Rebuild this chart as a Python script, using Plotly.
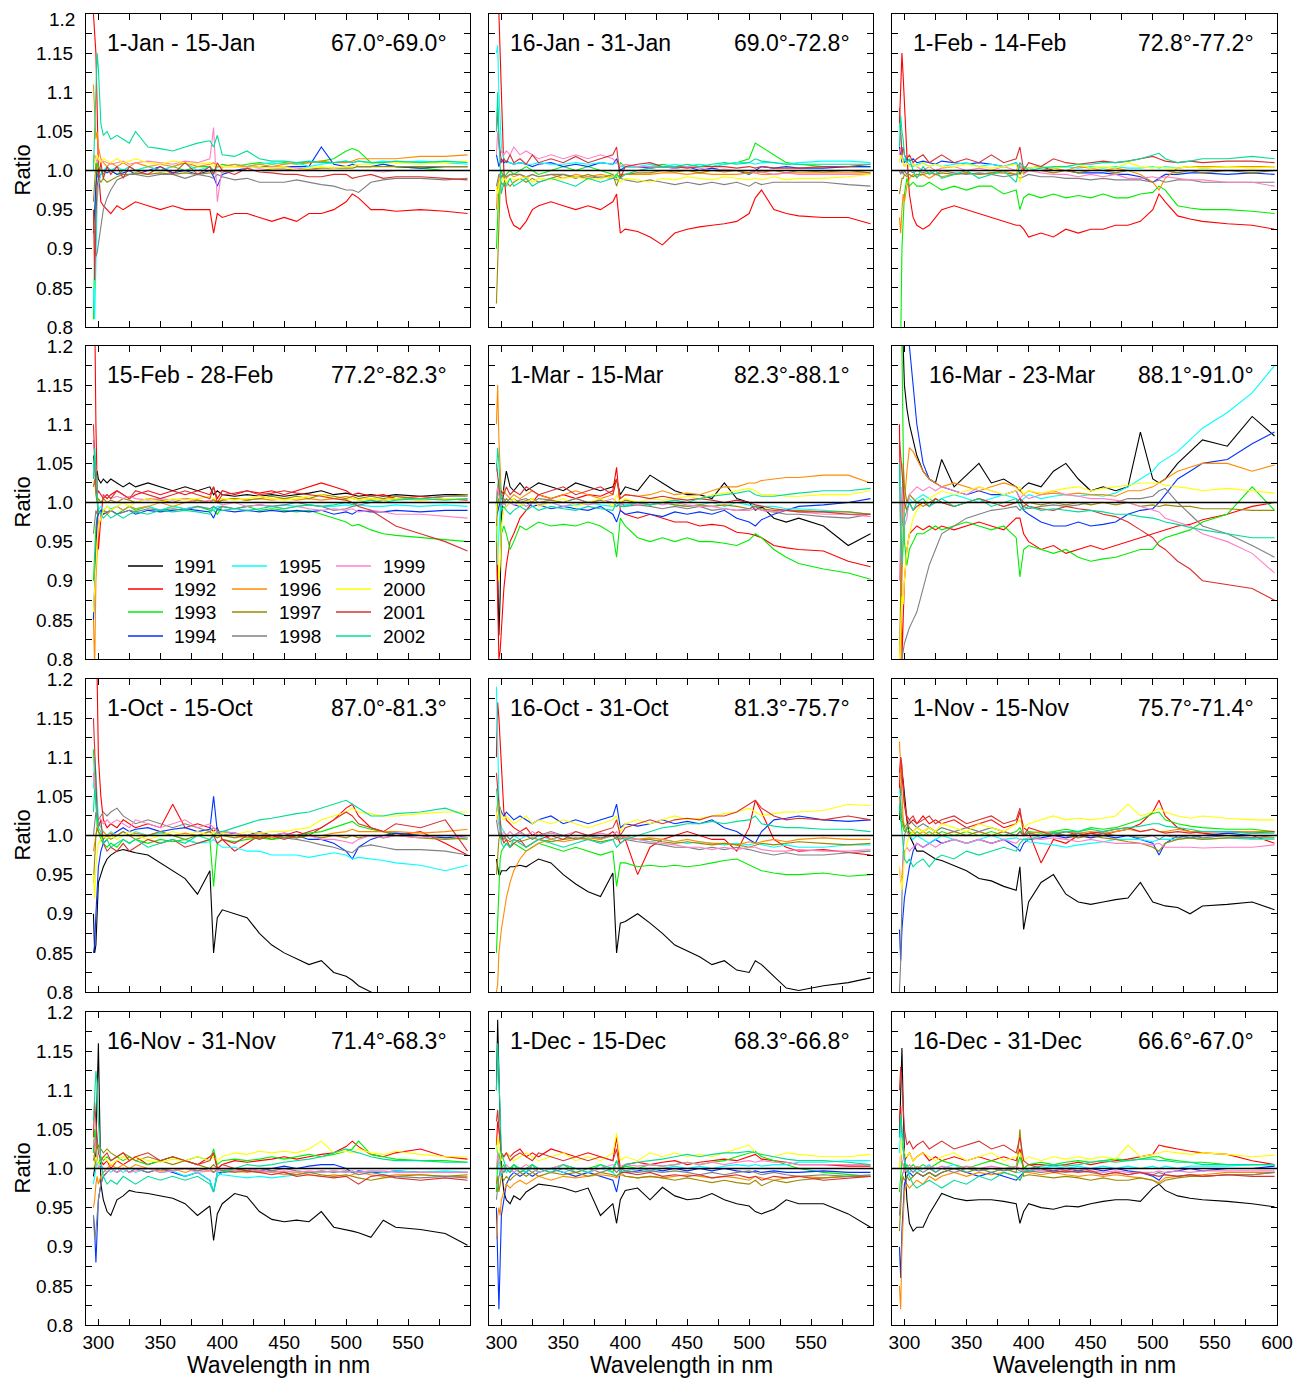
import plotly.graph_objects as go

# ---------------------------------------------------------------- data
WAVELENGTH_NM = [296, 297, 298, 299, 300, 302, 304, 307, 310, 315,
                 320, 325, 330, 340, 350, 360, 370, 380, 390, 393,
                 396, 400, 410, 420, 430, 440, 450, 460, 470, 480,
                 490, 500, 505, 510, 520, 530, 540, 560, 580, 598]

YEARS = [1991, 1992, 1993, 1994, 1995, 1996, 1997, 1998, 1999, 2000, 2001, 2002]
YEAR_COLORS = {1991: "#000000", 1992: "#ff0000", 1993: "#00ee00", 1994: "#0033ff",
               1995: "#00ffff", 1996: "#ff8c00", 1997: "#9a8a00", 1998: "#808080",
               1999: "#ff80c8", 2000: "#ffff00", 2001: "#d83030", 2002: "#00dd99"}

PANEL_PERIODS = ["1-Jan - 15-Jan", "16-Jan - 31-Jan", "1-Feb - 14-Feb",
                 "15-Feb - 28-Feb", "1-Mar - 15-Mar", "16-Mar - 23-Mar",
                 "1-Oct - 15-Oct", "16-Oct - 31-Oct", "1-Nov - 15-Nov",
                 "16-Nov - 31-Nov", "1-Dec - 15-Dec", "16-Dec - 31-Dec"]
PANEL_SZA = ["67.0°-69.0°", "69.0°-72.8°", "72.8°-77.2°",
             "77.2°-82.3°", "82.3°-88.1°", "88.1°-91.0°",
             "87.0°-81.3°", "81.3°-75.7°", "75.7°-71.4°",
             "71.4°-68.3°", "68.3°-66.8°", "66.6°-67.0°"]

Y_TICK_VALUES = [0.8, 0.825, 0.85, 0.875, 0.9, 0.925, 0.95, 0.975, 1.0,
                 1.025, 1.05, 1.075, 1.1, 1.125, 1.15, 1.175, 1.2]
Y_TICK_LABELS = ["0.8", "", "0.85", "", "0.9", "", "0.95", "", "1.0",
                 "", "1.05", "", "1.1", "", "1.15", "", "1.2"]
X_TICK_VALUES = [300, 325, 350, 375, 400, 425, 450, 475, 500, 525, 550, 575, 600]

# Ratio departures from unity, in per mille (ratio = 1 + value / 1000)
JAN_01_15 = {
    1992: [200, 180, 150, 80, 0, -40, -45, -50, -55, -45, -50, -45, -40, -45, -50, -45, -50, -50, -50, -80,
           -55, -60, -55, -55, -60, -65, -60, -65, -55, -55, -50, -40, -30, -35, -50, -50, -52, -50, -52, -55],
    1993: [-190, -80, -20, 10, 5, 0, -5, 5, 0, -5, 0, 5, 0, 5, 0, 5, 0, 5, 5, 0,
           5, 8, 5, 8, 10, 8, 10, 8, 10, 12, 15, 25, 28, 25, 10, 8, 5, 3, 0, 0],
    1994: [-80, -40, -20, 0, -10, -5, 0, -3, 0, -5, -3, 0, -5, 0, 5, -3, 0, -5, 0, -8,
           -20, -5, 0, 3, 5, 5, 5, 5, 5, 30, 8, 5, 8, 5, 5, 8, 5, 3, 5, 5],
    1995: [-150, -190, -120, -40, -20, -5, 0, 5, 0, 5, 0, 5, 0, 5, 0, 5, 10, 0, 5, -5,
           5, 5, 8, 5, 8, 10, 8, 10, 5, 8, 10, 12, 10, 12, 10, 12, 10, 12, 10, 8],
    1996: [110, 60, 40, 50, 30, 15, 10, 5, 10, 5, 10, 5, 10, 5, 8, 5, 10, 5, 8, 10,
           5, 5, 8, 5, 8, 5, 8, 10, 10, 12, 10, 10, 12, 15, 15, 15, 15, 18, 18, 20],
    1997: [-40, -20, 10, 0, -10, -15, -10, -15, -12, -8, -5, -5, -3, -5, -3, -5, -3, -5, -3, -2,
           0, -2, 0, 0, 0, 2, 2, 0, 2, 3, 3, 3, 3, 5, 5, 5, 5, 5, 5, 5],
    1998: [-60, -90, -110, -105, -95, -70, -50, -35, -25, -12, -8, -5, -5, -8, -5, -5, -10, -5, -8, -10,
           -5, -8, -12, -10, -15, -15, -15, -12, -15, -18, -20, -25, -25, -28, -15, -12, -10, -10, -12, -10],
    1999: [10, 20, 15, 10, 15, 10, 12, 10, 8, 10, 12, 8, 10, 12, 10, 8, 12, 10, 15, 55,
           -40, 5, 5, 5, 3, 5, 5, 3, 2, 0, 0, 0, 0, 0, 0, -2, 0, 0, 0, 0],
    2000: [20, 10, 15, 20, 15, 10, 15, 12, 10, 15, 10, 12, 15, 10, 8, 12, 10, 8, 10, 5,
           8, 5, 5, 3, 5, 3, 5, 0, 3, 5, 3, 5, 5, 8, 8, 10, 10, 8, 10, 12],
    2001: [-50, -140, -60, -20, -10, 10, -10, 5, -5, 5, -10, 5, 0, -5, 5, -5, 10, -5, 5, -5,
           10, 0, -5, 3, -2, -3, -5, -5, -8, -8, -5, -5, -10, -8, -5, -10, -8, -8, -10, -12],
    2002: [0, 60, 120, 150, 130, 60, 45, 50, 40, 45, 40, 35, 50, 30, 28, 25, 30, 35, 38, 30,
           45, 20, 18, 25, 15, 12, 12, 10, 12, 10, 10, 12, 10, 12, 10, 10, 12, 10, 12, 10],
}

JAN_16_31 = {
    1992: [300, 250, 200, 150, 80, 0, -40, -60, -70, -75, -65, -50, -45, -40, -45, -50, -45, -50, -40, -30,
           -80, -75, -78, -85, -95, -80, -75, -72, -70, -68, -65, -55, -35, -25, -50, -55, -58, -60, -60, -68],
    1993: [-100, -50, -20, -10, 0, -10, -5, 0, -5, 0, 5, 0, -5, 0, 5, 0, 5, 0, -5, -10,
           10, 5, 5, 5, 8, 5, 5, 8, 5, 8, 10, 15, 35, 30, 20, 10, 8, 5, 5, 5],
    1994: [20, 10, 5, 10, 15, 10, 12, 10, 8, 10, 8, 5, 8, 10, 5, 8, 5, 10, 8, 15,
           0, 5, 5, 3, 5, 3, 5, 0, 3, 0, 0, -5, 0, 5, 3, 5, 3, 3, 5, 5],
    1995: [150, 160, 100, 50, 30, 15, 10, 10, 8, 10, 8, 8, 10, 8, 8, 10, 8, 10, 8, 10,
           5, 5, 5, 8, 5, 8, 5, 8, 5, 8, 10, 10, 8, 10, 10, 8, 10, 12, 12, 10],
    1996: [-50, -20, -10, -5, -10, -5, -10, -5, -8, -5, -10, -5, -8, -5, -10, -5, -8, -5, -8, -5,
           -8, -5, -5, -5, -3, -3, -5, -3, -5, -5, -5, -3, -3, -5, -5, -3, -3, -3, -3, -3],
    1997: [-170, -120, -40, -20, -15, -20, -15, -20, -15, -10, -15, -10, -15, -10, -5, -10, -5, -10, -5, -20,
           -5, -5, -3, -3, 0, -2, 0, -3, 0, -2, 0, -3, 0, -2, 0, -3, 0, -2, 0, -3],
    1998: [-20, -10, -5, -5, -8, -5, -8, -5, -5, -5, -8, -5, -8, -5, -5, -8, -10, -8, -10, -12,
           -10, -12, -15, -12, -15, -18, -15, -18, -15, -18, -15, -20, -15, -18, -15, -15, -15, -15, -18, -20],
    1999: [20, 50, 30, 20, 25, 20, 25, 20, 30, 20, 25, 20, 15, 20, 15, 20, 15, 20, 15, 10,
           5, 8, 5, 5, 5, 3, 5, 3, 0, 2, 0, 0, -3, -2, -5, -3, -5, -5, -5, -5],
    2000: [-20, -30, -20, -10, -15, -10, -15, -10, -12, -10, -8, -15, -10, -12, -10, -8, -12, -10, -8, -5,
           -15, -10, -12, -15, -10, -12, -8, -10, -12, -8, -10, -12, -10, -12, -8, -12, -10, -10, -8, -5],
    2001: [50, 80, 40, 20, 10, 15, 10, 20, 10, 15, 8, 20, 10, 15, 10, 18, 10, 15, 20, 30,
           -10, 5, 8, 10, 5, 5, 3, 5, 5, 5, 3, 5, 3, 5, 3, 3, 3, 5, 5, 8],
    2002: [50, 100, 40, 0, -30, -15, -20, -10, -20, -15, -10, -20, -15, -10, -15, -20, -10, -15, -10, -5,
           -10, -5, 0, 3, 5, 5, 8, 5, 8, 10, 8, 10, 15, 12, 10, 8, 8, 8, 8, 8],
}

FEB_01_14 = {
    1992: [60, 100, 150, 120, 80, 20, -30, -60, -70, -75, -70, -60, -50, -45, -50, -55, -60, -65, -70, -70,
           -75, -85, -80, -85, -75, -80, -75, -75, -70, -70, -65, -50, -30, -40, -58, -62, -65, -68, -70, -75],
    1993: [-250, -220, -100, -60, -30, -10, -20, -15, -20, -20, -15, -20, -25, -20, -25, -20, -20, -30, -25, -50,
           -35, -30, -35, -30, -35, -32, -35, -30, -35, -35, -30, -28, -20, -25, -45, -48, -50, -50, -52, -55],
    1994: [30, 20, 10, 15, 10, 15, 12, 15, 10, 12, 10, 8, 12, 10, 8, 10, 8, 5, 10, -5,
           5, 3, 5, 0, 0, -3, -3, -3, -5, -5, -8, -15, -10, -5, -5, -3, -3, -5, -3, -5],
    1995: [60, 40, 20, 10, 15, 10, 8, 5, 8, 10, 5, 8, 5, 8, 10, 5, 8, 5, 10, 5,
           5, 3, 5, 3, 5, 3, 5, 3, 5, 3, 3, 5, 3, 5, 3, 5, 3, 5, 5, 5],
    1996: [-60, -80, -50, -30, -40, -20, -10, -5, -8, -5, -10, -5, -8, -5, -3, -5, -3, 0, -5, 5,
           -3, 0, 0, 3, 0, 5, 3, 0, 3, 0, -5, -15, -25, -10, 3, 5, 5, 5, 5, 5],
    1997: [-30, -20, -10, -10, -5, -8, -5, -8, -5, -5, -3, -5, -3, -5, -3, -5, -3, -3, -5, -3,
           -3, 0, 0, -3, 0, -3, 0, 0, -3, 0, 0, 0, 0, 0, -3, 0, -3, 0, -3, 0],
    1998: [0, -5, 0, -5, 0, -5, 0, -3, 0, -3, 0, -5, 0, -3, -5, -3, -5, -8, -5, -10,
           -8, -5, -8, -8, -10, -10, -12, -10, -12, -12, -12, -15, -12, -15, -12, -12, -15, -15, -15, -15],
    1999: [20, 30, 20, 10, 5, 10, 5, 8, 5, 0, 5, 0, 3, 5, 0, 3, 0, 5, 0, 10,
           -5, 0, -3, -5, -5, -8, -5, -8, -5, -10, -10, -8, -10, -8, -10, -12, -12, -15, -15, -20],
    2000: [10, 20, 15, 10, 5, 10, 5, 8, 5, 10, 5, 8, 5, 5, 8, 5, 3, 5, 8, -15,
           5, 3, 5, 3, 5, 8, 3, 5, 3, 10, 5, 3, 5, 3, 3, 5, 3, 5, 3, 5],
    2001: [80, 40, 20, 30, 20, 15, 20, 10, 15, 20, 10, 15, 20, 10, 15, 10, 20, 10, 15, 30,
           0, 10, 5, 15, 10, 8, 10, 12, 10, 12, 15, 18, 15, 12, 10, 12, 10, 12, 12, 10],
    2002: [30, 70, 50, 40, 20, 10, 15, 0, -10, 5, -5, 0, -10, -5, 0, -10, -5, 0, -15, 10,
           5, 0, 3, 5, 5, 8, 8, 10, 10, 12, 15, 20, 22, 15, 10, 12, 15, 15, 18, 15],
}

FEB_15_28 = {
    1991: [60, 40, 30, 40, 30, 25, 30, 25, 30, 25, 20, 25, 20, 25, 20, 15, 20, 15, 20, 10,
           15, 10, 8, 10, 8, 10, 8, 10, 12, 15, 10, 12, 10, 8, 10, 8, 10, 8, 10, 10],
    1992: [200, 250, 100, 0, -60, -20, 10, 5, 10, 15, 10, 5, 10, 15, 10, 15, 10, 15, 10, 20,
           5, 15, 10, 15, 12, 15, 10, 15, 20, 25, 20, 15, 10, 12, 8, 10, 5, 8, 5, 3],
    1993: [-100, -60, -30, -20, -10, -15, -10, -15, -10, -15, -10, -5, -10, -5, -10, -5, -8, -5, -10, -10,
           -15, -5, -8, -5, -10, -8, -10, -12, -10, -15, -20, -25, -30, -28, -35, -40, -42, -45, -48, -50],
    1994: [-150, -100, -40, -20, -15, -10, -15, -12, -10, -15, -12, -10, -15, -10, -12, -10, -8, -10, -12, -20,
           -8, -10, -12, -10, -12, -10, -12, -10, -12, -10, -15, -12, -15, -10, -12, -12, -10, -12, -10, -10],
    1995: [50, 30, 10, 0, -10, -5, -10, -5, -8, -5, -10, -5, -8, -5, -10, -5, -8, -5, -8, -10,
           -5, -5, -8, -5, -3, -5, -3, -5, -3, -5, -5, -3, -5, -3, -5, -5, -3, -5, -3, -5],
    1996: [-150, -210, -100, -60, -30, -20, -10, -15, -10, -5, -10, -5, -8, -5, 0, -5, 0, 3, 0, 5,
           0, 3, 5, 3, 5, 3, 5, 3, 5, 3, 5, 8, 5, 3, 5, 3, 5, 3, 5, 5],
    1997: [20, 30, 10, 0, 5, 0, 5, 0, 3, 0, 5, 3, 0, 5, 3, 0, 5, 3, 0, 3,
           0, 3, 5, 3, 5, 8, 5, 8, 5, 10, 8, 5, 8, 5, 8, 5, 8, 5, 8, 10],
    1998: [-40, -20, -10, -15, -10, -15, -10, -12, -10, -15, -12, -10, -12, -8, -10, -8, -10, -5, -8, -5,
           -8, -5, -8, -5, -3, -5, -3, 0, -3, -5, -10, -8, -5, -3, 0, 3, 5, 5, 8, 8],
    1999: [80, 40, 20, 10, 15, 10, 8, 10, 5, 8, 5, 8, 5, 3, 5, 3, 5, 0, 3, 0,
           0, -3, 0, -5, -3, -5, -8, -5, -8, -10, -8, -10, -8, -12, -10, -12, -15, -15, -18, -20],
    2000: [-140, -100, -80, -50, -30, -20, -10, -5, -10, -5, 0, -5, 0, 5, 0, 5, 3, 5, 8, 5,
           3, 5, 3, 5, 8, 5, 3, 5, 8, 10, 5, 3, 5, 3, 5, 3, 5, 3, 5, 5],
    2001: [100, 60, 20, 10, 15, 10, 5, 10, 5, 15, 10, 5, 15, 10, 5, 10, 15, 10, 5, 20,
           0, 10, 12, 15, 10, 12, 15, 12, 10, 8, 5, 3, 0, -5, -10, -20, -30, -40, -50, -62],
    2002: [30, 70, 40, 20, -10, -15, -20, -15, -20, -15, -20, -15, -12, -15, -10, -12, -10, -12, -15, -5,
           -10, -10, -8, -10, -8, -5, -8, -5, -3, -5, -3, 0, -3, 0, 3, 0, 3, 5, 3, 5],
}

MAR_01_15 = {
    1991: [0, -100, -170, -120, -20, 20, 40, 20, 15, 25, 15, 20, 25, 20, 15, 25, 20, 15, 20, 30,
           10, 20, 15, 35, 25, 15, 10, 10, 5, 25, 5, 0, -10, -5, -20, -25, -20, -30, -55, -40],
    1992: [-50, -150, -200, -190, -160, -110, -80, -50, -40, -20, -10, 0, 10, 5, 10, 5, 10, 8, 15, 45,
           -10, -15, -20, -15, -20, -25, -25, -30, -28, -30, -38, -40, -42, -45, -55, -58, -60, -62, -75, -82],
    1993: [-20, 20, 30, -20, -40, -30, -40, -60, -50, -30, -35, -30, -25, -30, -28, -30, -25, -30, -40, -70,
           -20, -30, -45, -50, -45, -50, -45, -50, -50, -52, -55, -48, -40, -45, -60, -70, -78, -85, -90, -98],
    1994: [-20, -10, -5, 0, -5, 0, -5, 0, -3, -5, 0, -5, -3, -8, -5, -8, -10, -5, -15, -25,
           -10, -15, -12, -15, -18, -12, -15, -12, -15, -10, -20, -25, -30, -22, -15, -10, -5, -3, 0, 5],
    1995: [-30, -80, -40, -10, -5, 0, -5, 0, -3, 0, -5, 0, -3, 0, -5, -3, 0, -3, -5, -5,
           -3, -3, 0, -3, 0, -3, -5, -3, 0, -5, 0, -3, -5, -5, -5, -8, -8, -10, -12, -15],
    1996: [100, 150, 80, 40, 10, 15, 10, 5, 10, 5, 10, 15, 10, 5, 10, 15, 10, 5, 10, 30,
           5, 10, 8, 10, 15, 10, 12, 10, 15, 20, 20, 25, 25, 28, 30, 32, 32, 35, 35, 25],
    1997: [-10, 0, 5, 10, 5, 0, 5, 0, 5, 0, 3, 5, 0, 3, 0, 5, 0, 3, 0, 0,
           0, 3, 0, -3, 0, -3, -5, -3, -5, -3, -5, -8, -5, -8, -10, -10, -10, -12, -12, -15],
    1998: [0, 20, 10, 5, 10, 5, 0, 5, 0, 3, 5, 0, 5, 3, 0, 5, 0, 3, 0, -5,
           0, -5, -3, -5, -8, -5, -8, -5, -10, -8, -10, -8, -5, -10, -12, -15, -15, -18, -20, -15],
    1999: [10, 20, 10, 0, -5, 0, -5, 0, -3, 0, -5, 0, -3, 0, -5, 0, -3, 0, 5, 0,
           -3, 0, -3, 0, -3, 0, -3, -5, -5, -8, -10, -10, -8, -10, -12, -10, -12, -15, -15, -18],
    2000: [0, -60, -100, -80, -30, -10, -5, 0, 5, -5, 0, 5, -5, 0, 5, -5, 0, 5, -5, 10,
           0, 5, 0, 5, 3, 5, 8, 5, 10, 12, 15, 18, 15, 10, 10, 8, 8, 10, 10, 15],
    2001: [50, 30, 20, 10, 15, 10, 20, 10, 15, 10, 20, 15, 10, 15, 20, 10, 15, 20, 10, 30,
           5, 10, 8, 5, 8, 5, 3, 5, 3, 0, 3, 0, -3, -5, -8, -10, -12, -12, -15, -15],
    2002: [40, 70, 50, 20, -10, -5, -10, -15, -10, -5, -10, -5, -10, -5, -8, -10, -5, -8, -10, 0,
           -5, -5, 0, -3, 0, 3, 0, 5, 8, 10, 12, 15, 10, 8, 8, 10, 12, 15, 15, 18],
}

MAR_16_23 = {
    1991: [400, 300, 250, 200, 150, 120, 100, 80, 60, 40, 30, 25, 55, 20, 35, 50, 25, 30, 20, 15,
           20, 25, 20, 40, 50, 30, 15, 20, 15, 20, 90, 30, 25, 30, 50, 65, 80, 72, 110, 85],
    1992: [100, -100, -200, -150, -100, -60, -40, -35, -30, -35, -30, -35, -30, -35, -30, -25, -30, -35, -20, -20,
           -40, -50, -60, -55, -65, -60, -55, -60, -55, -50, -45, -40, -38, -35, -30, -28, -22, -15, -5, 0],
    1993: [250, 300, 200, 50, -50, -80, -60, -50, -40, -40, -35, -30, -35, -30, -25, -30, -35, -30, -45, -95,
           -60, -55, -60, -65, -60, -70, -75, -72, -70, -65, -60, -60, -50, -45, -40, -35, -25, -15, 20, -10],
    1994: [300, 300, 300, 300, 250, 250, 200, 150, 100, 50, 30, 25, 20, 15, 10, 15, 10, 10, 15, 5,
           -10, -15, -25, -30, -30, -25, -30, -28, -25, -15, -10, -8, 0, 10, 30, 40, 50, 55, 75, 90],
    1995: [50, 0, -30, -20, -10, 0, 5, 0, 5, 10, 5, 0, 5, 10, 5, 0, 5, 10, 5, 0,
           5, 10, 5, 8, 10, 8, 10, 8, 12, 20, 30, 40, 50, 55, 65, 80, 95, 115, 140, 175],
    1996: [-300, -250, -100, -50, 0, 40, 70, 65, 55, 40, 30, 25, 20, 25, 20, 15, 20, 25, 20, 15,
           10, 15, 10, 12, 10, 12, 10, 10, 8, 15, 15, 20, 25, 30, 40, 45, 50, 50, 40, 48],
    1997: [-200, -100, 0, 50, 20, 0, 10, 5, 0, -5, 0, 5, 0, -5, 0, 5, 0, -5, 0, 0,
           -5, 0, -3, 0, -3, 0, -3, 0, -3, 0, -5, -3, -5, -3, -5, -5, -8, -8, -10, -10],
    1998: [-250, -220, -200, -190, -180, -170, -160, -150, -140, -110, -80, -60, -40, -30, -20, -15, -10, -8, -5, -10,
           -5, -8, -5, -3, -5, -3, 0, 0, 0, 5, 5, 8, 15, 18, 0, -15, -30, -40, -55, -70],
    1999: [-100, -50, 20, 0, -30, -20, 10, 15, 20, 15, 20, 15, 20, 15, 10, 20, 15, 10, 15, 5,
           10, 5, 10, 15, 10, 8, 5, 5, 3, 0, -5, -10, -12, -20, -25, -30, -40, -50, -65, -90],
    2000: [-200, -150, -120, -130, -100, -60, -40, -20, -10, 0, 5, 10, 15, 10, 15, 20, 15, 10, 15, 20,
           10, 15, 12, 15, 18, 20, 15, 18, 20, 22, 25, 25, 25, 22, 20, 18, 15, 18, 15, 12],
    2001: [80, 60, 40, 20, 0, -10, 0, -10, -5, 0, -5, 5, 0, -5, 0, 5, 0, -5, 0, 5,
           0, -5, -8, -10, -5, -8, -10, -15, -18, -25, -35, -45, -55, -60, -75, -85, -100, -105, -110, -125],
    2002: [50, -50, -80, -40, -20, -10, 0, -10, 0, 5, -5, 0, 5, -5, 0, 5, -5, 0, 5, -5,
           -10, -5, -10, -8, -10, -12, -10, -12, -15, -15, -18, -20, -22, -25, -28, -32, -35, -40, -45, -45],
}

OCT_01_15 = {
    1991: [-100, -150, -140, -100, -60, -50, -40, -30, -25, -20, -18, -20, -22, -25, -35, -45, -55, -75, -45, -150,
           -105, -95, -100, -105, -125, -140, -150, -158, -165, -160, -175, -180, -185, -192, -200, -205, -210, -220, -230, -240],
    1992: [300, 300, 250, 200, 100, 50, 20, 10, 15, 10, 20, 15, 10, 15, 10, 40, 10, 15, 10, 5,
           10, -5, -20, -10, 0, -5, 0, 5, 0, 10, 20, 35, 40, 25, 10, 5, 0, 5, -10, -25],
    1993: [110, 80, 40, 10, 5, -5, -10, -15, -10, -15, -5, -10, -5, -10, -5, -8, -5, -10, -5, -65,
           -10, -5, -8, -5, -3, -5, -3, 0, 3, 5, 10, 15, 18, 12, 8, 5, 3, 0, -3, -5],
    1994: [-150, -140, -100, -60, -40, -20, -10, -5, 0, 5, 10, 5, 8, 10, 5, 8, 10, 5, 8, 50,
           5, 0, 3, 0, 5, 0, 3, 0, -5, -5, -10, -20, -30, -15, -5, 0, 3, 0, -3, 0],
    1995: [60, 100, 80, 40, 20, 10, 5, 0, 5, 0, 5, 0, 5, 0, 3, 0, -5, -10, -8, -5,
           -10, -15, -15, -20, -20, -25, -25, -25, -28, -25, -22, -25, -30, -28, -30, -32, -35, -38, -45, -38],
    1996: [-20, -10, 0, 10, 5, 0, 5, 0, 3, 0, 5, 0, 3, 0, 5, 0, 3, 0, 5, 0,
           3, 0, 0, -3, 0, -3, 0, -3, 0, 0, 3, 5, 8, 5, 5, 5, 5, 3, 5, 8],
    1997: [-60, -20, 0, 10, 5, 0, -5, 0, -5, 0, 5, 0, -5, 0, 5, 0, -5, 0, 5, 0,
           -3, 0, -3, 0, -3, 0, 0, -3, 0, -3, 0, -3, 0, -3, 0, -3, 0, -3, -5, -3],
    1998: [0, 20, 30, 25, 20, 25, 30, 25, 30, 35, 25, 20, 15, 20, 15, 10, 15, 10, 5, 10,
           5, 5, 3, 0, 3, 0, -3, -5, -8, -12, -15, -20, -22, -15, -12, -15, -18, -18, -20, -25],
    1999: [80, 60, 50, 30, 25, 20, 15, 20, 15, 20, 15, 10, 20, 15, 10, 15, 20, 10, 15, 10,
           5, 5, 3, 0, 3, 0, 3, 0, 0, -5, -5, -8, -10, -5, 0, -3, 0, -3, 0, -3],
    2000: [-50, -80, -40, -20, -10, -5, 0, -5, 0, -5, 0, 5, 0, -5, 0, 5, 0, 5, 0, 5,
           0, 3, 0, 5, 3, 5, 5, 8, 10, 20, 25, 30, 35, 30, 28, 25, 25, 28, 30, 30],
    2001: [150, 100, 60, 30, 10, 20, -10, -20, -15, -20, -10, -20, -15, -5, -10, -5, -15, -10, -5, 0,
           -10, -5, -10, 0, -5, 0, -5, 0, 5, 10, 20, 30, 25, 15, 10, 5, 15, 10, 20, -20],
    2002: [30, 60, 40, 20, 10, 5, -10, -5, -15, -10, -5, -10, -5, -15, -10, -5, -10, 0, -5, 0,
           5, 5, 10, 15, 20, 22, 25, 28, 30, 35, 40, 45, 40, 35, 25, 25, 28, 30, 35, 25],
}

OCT_16_31 = {
    1991: [-30, -40, -50, -50, -45, -45, -45, -40, -40, -38, -40, -35, -30, -35, -50, -62, -72, -78, -48, -150,
           -112, -110, -100, -112, -125, -140, -148, -155, -165, -160, -172, -175, -160, -165, -180, -195, -198, -192, -188, -182],
    1992: [100, 170, 150, 120, 80, 30, 20, 15, 10, 5, 10, 0, 5, -5, 0, -5, 0, -5, 5, 0,
           -10, -5, -50, -15, -5, 0, 5, 0, -5, -5, -20, 10, 45, 30, -5, -15, -20, -18, -22, -25],
    1993: [-150, -100, -60, -30, -20, -15, -10, -15, -10, -15, -20, -15, -10, -15, -20, -15, -20, -25, -20, -65,
           -35, -35, -40, -38, -40, -38, -40, -38, -35, -32, -30, -38, -42, -45, -48, -50, -50, -48, -52, -50],
    1994: [30, 40, 40, 35, 30, 25, 30, 25, 20, 25, 20, 15, 20, 25, 15, 20, 15, 20, 25, 40,
           10, 15, 12, 15, 20, 15, 18, 15, 20, 10, 5, -5, -10, 5, 20, 22, 25, 20, 18, 20],
    1995: [190, 100, 50, 20, 10, 5, 0, -5, 0, -5, 0, -5, 0, -5, 0, -5, 0, -5, 0, 0,
           -5, -3, -5, -8, -5, -8, -10, -8, -10, -12, -10, -12, -10, -12, -15, -12, -15, -15, -12, -12],
    1996: [-200, -190, -150, -130, -120, -100, -80, -60, -45, -30, -20, -15, -10, -5, -8, -5, -3, -5, 0, -3,
           -5, 0, -5, -3, -5, -8, -5, -8, -10, -10, -12, -8, -10, -8, -5, -8, -5, -3, -5, -5],
    1997: [-50, -20, -5, 0, -5, 0, -5, -8, -5, -8, -5, -3, -5, -8, -5, -3, -5, -8, -5, -3,
           0, -3, -5, -5, -8, -10, -8, -10, -12, -10, -12, -15, -12, -10, -12, -10, -8, -10, -12, -10],
    1998: [20, 10, 0, 5, 0, -5, 0, -5, 0, 5, 0, -5, 0, 5, 0, -5, 0, -3, 0, -5,
           -3, -5, -8, -10, -12, -15, -15, -18, -15, -18, -15, -18, -20, -22, -25, -22, -25, -25, -22, -20],
    1999: [30, 20, 10, 5, 0, 5, 0, 5, 0, 3, 0, 5, 0, 3, 0, 5, 0, 3, 0, 5,
           0, -3, -5, -8, -10, -12, -15, -15, -18, -15, -18, -15, -15, -18, -20, -20, -18, -20, -20, -18],
    2000: [20, 50, 40, 30, 25, 20, 25, 20, 15, 20, 25, 15, 20, 15, 20, 15, 10, 15, 20, 25,
           5, 15, 20, 15, 20, 25, 20, 22, 25, 28, 30, 35, 30, 25, 28, 30, 30, 32, 40, 38],
    2001: [80, 60, 30, 10, 0, -10, -5, -15, -10, -5, -15, -10, -5, 0, -5, 5, 0, 5, 10, 20,
           0, 10, 15, 20, 15, 20, 22, 20, 25, 25, 30, 40, 45, 35, 25, 20, 22, 20, 25, 20],
    2002: [60, 40, 20, 0, -10, -15, -10, -15, -5, -10, -15, -10, -5, -10, -15, -10, -5, -10, -5, -15,
           -10, -5, 0, 5, 10, 12, 15, 15, 18, 15, 18, 20, 25, 15, 12, 10, 10, 8, 8, 5],
}

NOV_01_15 = {
    1991: [20, 60, 80, 70, 50, 20, 0, -10, -20, -20, -25, -30, -32, -38, -45, -55, -58, -65, -70, -40,
           -120, -85, -60, -50, -75, -85, -88, -85, -82, -80, -60, -85, -88, -90, -92, -100, -90, -88, -85, -95],
    1992: [60, 100, 80, 60, 40, 20, 15, 20, 15, 25, 15, 20, 15, 20, 10, 15, 20, 10, 15, 30,
           10, 5, -35, -5, -10, 0, 3, 0, 5, 8, 15, 30, 45, 25, 10, 5, 3, 0, 0, -10],
    1993: [40, 20, 15, 10, 5, 10, 5, 0, 5, 0, 5, 0, 5, 0, 5, 0, 5, 0, 5, 10,
           0, 5, 3, 5, 8, 5, 10, 8, 10, 15, 20, 28, 30, 20, 15, 12, 10, 8, 8, 5],
    1994: [-120, -160, -120, -100, -80, -60, -40, -20, -10, -15, -10, -5, -10, -5, -10, -5, -10, -5, -15, -20,
           -10, -5, -3, 0, -3, 0, -3, 0, -3, 0, -5, -10, -25, -10, 0, -3, 0, 3, 0, 0],
    1995: [60, 40, 30, 20, 10, 5, 0, -5, 0, -5, -10, -5, 0, -5, -10, -5, 0, -5, -3, -5,
           -5, -8, -10, -12, -15, -12, -10, -8, -5, -5, -5, -8, -5, -5, -5, -3, -5, -3, -5, -5],
    1996: [120, 80, 40, 20, 10, 5, 0, 5, 0, 5, 0, 5, 0, 5, 0, 5, 0, 5, 0, 5,
           0, 3, 5, 3, 5, 3, 5, 3, 5, 8, 5, 8, 5, 5, 8, 5, 5, 5, 5, 5],
    1997: [50, 30, 20, 15, 10, 15, 10, 5, 10, 5, 10, 5, 0, 5, 0, 5, 0, 5, 0, 5,
           0, 3, 0, 3, 0, -3, 0, -3, -5, -8, -10, -15, -20, -10, -5, -3, -5, -3, -3, -3],
    1998: [-200, -160, -80, -20, 0, 10, 20, 15, 10, 15, 10, 5, 10, 5, 10, 5, 10, 5, 0, 5,
           0, 3, 0, 3, 0, 3, 0, 3, 0, 0, -3, 0, -5, 0, -3, 0, -3, 0, -3, 0],
    1999: [-40, -60, -50, -30, -20, -15, -20, -15, -10, -15, -10, -15, -10, -5, -10, -5, -10, -5, -10, -5,
           -5, -3, -5, -3, -5, -8, -5, -8, -10, -10, -10, -12, -10, -15, -15, -15, -16, -15, -15, -12],
    2000: [-40, -60, -70, -50, -30, -10, 0, 5, 10, 5, 10, 5, 15, 10, 5, 15, 10, 5, 15, 20,
           10, 15, 20, 25, 20, 22, 20, 22, 25, 40, 25, 30, 35, 30, 25, 22, 25, 22, 20, 20],
    2001: [80, 100, 90, 60, 40, 25, 20, 25, 15, 20, 25, 15, 20, 25, 15, 20, 25, 15, 20, 35,
           0, 10, 5, 0, 5, 0, 3, 5, 8, 10, 5, 8, 5, 3, 5, 3, 5, 5, 3, 5],
    2002: [40, 20, 0, -20, -30, -35, -30, -40, -35, -30, -40, -30, -25, -30, -20, -25, -20, -15, -20, -10,
           -5, -5, 0, 3, 5, 5, 8, 5, 8, 10, 12, 15, 15, 12, 10, 8, 5, 5, 3, 3],
}

NOV_16_31 = {
    1991: [-10, 0, 30, 100, 160, -20, -40, -55, -60, -40, -35, -28, -30, -32, -35, -38, -45, -60, -48, -92,
           -58, -45, -32, -36, -55, -65, -68, -66, -68, -55, -75, -78, -80, -82, -88, -66, -75, -78, -83, -98],
    1992: [20, 40, 30, 10, 5, 10, 5, 10, 0, 10, 5, 10, 15, 5, 10, 15, 10, 5, 15, 20,
           0, 5, 10, 8, 10, 12, 15, 12, 15, 18, 20, 28, 35, 28, 18, 15, 20, 25, 15, 12],
    1993: [20, 50, 30, 10, 5, 15, 10, 15, 10, 15, 10, 15, 10, 5, 10, 15, 10, 15, 10, 25,
           5, 10, 12, 10, 12, 15, 12, 15, 18, 15, 18, 22, 25, 35, 18, 15, 12, 10, 10, 8],
    1994: [-60, -80, -120, -80, -40, -20, -10, -5, 0, -5, 0, -5, 0, -5, 0, -5, -10, -5, -15, -30,
           -5, -5, -3, 0, -3, 0, 3, 0, 3, 5, 5, 0, -5, -3, -5, -5, -3, -5, -5, -5],
    1995: [-20, -10, 0, 10, 5, 0, -5, 0, -5, 0, -5, 0, -5, 0, -5, -3, -10, -5, -15, -30,
           -5, -8, -10, -12, -10, -12, -10, -8, -5, -5, -3, -5, -3, -5, -3, -5, -3, -5, -3, -5],
    1996: [-50, -40, -20, -10, -20, -10, -5, 0, 5, 0, 5, 0, 5, 0, -3, 0, -5, 0, -3, -5,
           -3, 0, -3, -5, -3, -5, -8, -5, -8, -10, -8, -10, -8, -5, -8, -10, -8, -8, -10, -10],
    1997: [10, 20, 30, 25, 30, 25, 20, 25, 20, 15, 20, 15, 10, 15, 10, 5, 10, 5, 0, 5,
           0, -3, -5, -3, -5, -3, -5, -8, -5, -8, -10, -8, -10, -12, -15, -12, -10, -8, -10, -8],
    1998: [-60, -90, -80, -60, -40, -20, -10, -5, 0, -5, 0, -5, 0, -5, 0, -3, 0, -3, 0, -5,
           0, -3, 0, -3, 0, -3, 0, -3, -5, -3, -5, -3, -5, -8, -5, -8, -10, -12, -10, -12],
    1999: [30, 40, 20, 10, 0, 5, 0, -5, 0, -5, 0, -5, -3, 0, -5, -3, 0, -5, -3, 0,
           -3, 0, -3, 0, -3, -5, -3, -5, -3, -5, -3, -5, -3, -5, -3, -3, -5, -5, -5, -5],
    2000: [0, 10, 15, 10, 5, 10, 15, 10, 5, 10, 15, 10, 15, 10, 8, 12, 10, 15, 10, 15,
           10, 15, 20, 18, 22, 20, 22, 20, 25, 35, 20, 22, 20, 25, 20, 18, 22, 18, 15, 15],
    2001: [40, 85, 60, 40, 20, 10, 15, 20, 10, 15, 20, 10, 15, 20, 10, 15, 10, 5, 10, 20,
           0, 5, 0, -3, -5, -8, -5, -10, -8, -10, -12, -10, -15, -20, -10, -8, -12, -15, -12, -15],
    2002: [60, 100, 125, 110, 60, 10, -10, -20, -15, -20, -10, -15, -20, -10, -15, -10, -15, -10, -20, -30,
           -10, -5, 0, 5, 3, 5, 8, 10, 12, 15, 20, 25, 22, 20, 15, 12, 10, 10, 8, 8],
}

DEC_01_15 = {
    1991: [100, 190, 120, 50, 0, -30, -40, -45, -35, -40, -30, -25, -20, -22, -25, -30, -25, -60, -45, -70,
           -40, -28, -25, -40, -24, -35, -40, -38, -32, -40, -45, -48, -55, -58, -52, -40, -45, -45, -58, -75],
    1992: [30, 60, 50, 30, 20, 15, 20, 15, 20, 25, 15, 20, 15, 25, 20, 15, 20, 15, 10, 40,
           0, 5, 8, 5, 8, 10, 5, 8, 10, 12, 10, 15, 18, 12, 10, 8, 5, 5, 3, 3],
    1993: [-30, 10, 20, 10, 0, 5, -5, 0, 5, -5, 0, 5, -5, 0, 5, -5, 0, 5, -5, 10,
           0, 3, 0, 5, 3, 5, 8, 5, 8, 10, 15, 20, 22, 15, 10, 5, 0, -5, -8, -10],
    1994: [-50, -100, -180, -120, -60, -40, -20, -10, -5, -10, -5, -10, -5, 0, -5, -10, -5, -10, -15, -30,
           -5, -5, -3, 0, -3, 0, -3, 0, -3, 0, -3, -5, -3, -5, -3, -5, -5, -3, -5, -5],
    1995: [30, 20, 0, -10, -5, 0, -5, 0, -5, 0, -5, 0, -5, 0, -5, 0, -5, 0, -5, -10,
           -5, -3, 0, -3, 0, 3, 0, 3, 0, 3, 5, 3, 5, 3, 5, 5, 8, 8, 10, 10],
    1996: [-90, -60, -50, -60, -40, -30, -20, -25, -20, -15, -20, -15, -10, -15, -10, -12, -10, -8, -10, -12,
           -8, -10, -12, -10, -12, -10, -8, -10, -12, -10, -12, -15, -10, -12, -15, -12, -10, -12, -10, -10],
    1997: [-20, -10, -30, -20, -10, -15, -10, -15, -10, -5, -10, -5, -10, -5, -8, -5, -10, -5, -8, -10,
           -5, -10, -12, -10, -12, -15, -12, -15, -18, -15, -18, -20, -15, -22, -15, -18, -15, -12, -10, -10],
    1998: [-40, -20, -10, -5, 0, -5, 0, -5, 0, -5, 0, -5, 0, -5, 0, -5, 0, -5, 0, -5,
           0, -3, -5, -3, -5, -3, -5, -8, -5, -8, -5, -3, -5, -8, -5, -8, -10, -8, -10, -8],
    1999: [0, 20, 10, 0, -5, 0, 5, 0, -5, 0, 5, 0, -5, 0, 5, 0, -5, 0, 5, 0,
           3, 5, 3, 5, 3, 5, 8, 5, 8, 5, 8, 10, 8, 10, 8, 8, 5, 5, 5, 5],
    2000: [20, 40, 30, 20, 10, 15, 20, 15, 10, 15, 20, 15, 10, 15, 20, 10, 15, 10, 20, 45,
           10, 15, 10, 20, 15, 20, 15, 18, 15, 20, 25, 30, 20, 18, 15, 20, 18, 15, 15, 18],
    2001: [60, 75, 50, 30, 20, 15, 20, 10, 15, 20, 15, 10, 20, 15, 10, 15, 10, 15, 10, 25,
           -5, -5, -8, -5, -10, -8, -10, -8, -12, -10, -8, -12, -10, -15, -10, -12, -10, -15, -12, -10],
    2002: [100, 160, 120, 60, 20, 10, 0, -5, 5, 0, -5, 5, 0, -5, 5, 0, -5, 5, 0, 10,
           -5, 5, 8, 10, 12, 15, 18, 15, 18, 20, 20, 22, 20, 18, 15, 12, 10, 10, 8, 5],
}

DEC_16_31 = {
    1991: [40, 100, 154, 80, 20, -40, -70, -80, -75, -75, -58, -45, -32, -38, -41, -40, -40, -42, -45, -70,
           -55, -45, -50, -52, -48, -49, -45, -42, -40, -40, -42, -25, -20, -28, -35, -38, -40, -42, -45, -49],
    1992: [60, 80, 40, 20, 10, 15, 20, 10, 15, 20, 10, 15, 10, 15, 10, 15, 10, 15, 10, 25,
           0, 5, 5, 3, 5, 8, 5, 8, 10, 12, 15, 18, 30, 28, 25, 22, 20, 18, 10, 5],
    1993: [-30, -10, 10, 5, 0, 5, 0, 5, 0, 5, 0, 5, 10, 5, 0, 5, 10, 5, 0, 15,
           0, 5, 8, 5, 8, 10, 8, 10, 12, 10, 12, 15, 15, 12, 10, 8, 8, 5, 5, 5],
    1994: [-100, -140, -80, -40, -20, -10, -5, -10, -5, -10, -5, -10, -5, 0, -5, -10, -5, -10, -15, -10,
           -5, -3, 0, -3, 0, -3, 0, -3, 0, -3, -5, -10, -15, -5, -3, 0, -3, 0, 0, 3],
    1995: [20, 50, 40, 20, 10, 0, -5, 0, -5, 0, 5, -5, 0, 5, -5, 0, -5, 0, -5, -5,
           0, -3, 0, 3, 0, 3, 0, 3, 0, 3, 0, 3, 0, 3, 0, 3, 3, 3, 5, 5],
    1996: [-150, -180, -100, -50, -30, -20, -25, -20, -15, -20, -10, -15, -10, -5, -10, -5, -8, -5, -10, -15,
           -5, -5, -8, -5, -8, -10, -8, -10, -8, -10, -12, -15, -18, -12, -10, -8, -8, -5, -5, -5],
    1997: [-80, -40, -20, -10, -15, -10, -15, -10, -5, -10, -5, -10, -5, 0, -5, 0, -5, 0, -5, 50,
           -10, -8, -10, -12, -10, -12, -15, -12, -15, -15, -12, -15, -20, -15, -12, -10, -10, -8, -8, -5],
    1998: [-60, -30, -10, -5, 0, -5, 0, -5, 0, -5, 0, -5, 0, -5, 0, -3, 0, -3, 0, -3,
           -5, -3, -5, -3, -5, -3, -5, -8, -5, -8, -5, -8, -5, -8, -10, -8, -10, -8, -8, -5],
    1999: [0, 20, 10, 0, -5, 0, 5, 0, 3, 0, 3, 0, 3, 0, 3, 0, 3, 0, 3, 0,
           -3, 0, -3, 0, -3, 0, -3, -5, -3, -5, -5, -5, -3, -5, -3, -5, -3, -3, -3, -3],
    2000: [0, 20, 40, 30, 20, 15, 20, 10, 15, 20, 15, 10, 15, 20, 10, 15, 20, 10, 15, 20,
           10, 15, 10, 15, 12, 15, 12, 15, 12, 30, 15, 18, 20, 22, 20, 18, 20, 18, 15, 17],
    2001: [100, 130, 110, 80, 50, 30, 35, 25, 30, 35, 25, 30, 35, 25, 30, 35, 25, 30, 20, 40,
           10, 5, 0, -5, -3, -5, -3, -8, -5, -8, -5, -8, -10, -8, -10, -8, -10, -8, -10, -10],
    2002: [40, 70, 50, 30, 10, 0, -10, -20, -25, -20, -15, -20, -25, -15, -20, -10, -15, -5, -10, -15,
           -5, 0, 3, 5, 3, 5, 8, 10, 8, 10, 12, 12, 10, 10, 8, 8, 5, 5, 5, 5],
}

PANEL_DATA = [JAN_01_15, JAN_16_31, FEB_01_14, FEB_15_28, MAR_01_15, MAR_16_23,
              OCT_01_15, OCT_16_31, NOV_01_15, NOV_16_31, DEC_01_15, DEC_16_31]

# ---------------------------------------------------------------- layout
# The page places the figure 8 px from the window corner (default body margin),
# so the figure is sized to end at the window edge and page coordinates are
# shifted by that offset.
PAGE_OFFSET = 8
FIG_W, FIG_H = 1307 - PAGE_OFFSET, 1378 - PAGE_OFFSET
COL_PX = [(86, 470), (489, 873), (892, 1277)]
ROW_PX = [(14, 327), (346, 659), (679, 992), (1012, 1325)]
FONT = "Liberation Sans, Arial, Helvetica, sans-serif"


def fx(p):
    return (p - PAGE_OFFSET) / FIG_W


def fy(p):
    return 1 - (p - PAGE_OFFSET) / FIG_H


fig = go.Figure()
layout_axes = {}
shapes = []
annotations = []

for i, panel in enumerate(PANEL_DATA):
    r, c = divmod(i, 3)
    n = i + 1
    xa = "x" if n == 1 else f"x{n}"
    ya = "y" if n == 1 else f"y{n}"
    for yr in YEARS:
        if yr not in panel:
            continue
        vals = panel[yr]
        if len(vals) != len(WAVELENGTH_NM):
            raise ValueError(f"panel {n} year {yr}: {len(vals)} values")
        fig.add_trace(go.Scatter(
            x=WAVELENGTH_NM, y=[1 + v / 1000 for v in vals], mode="lines",
            line=dict(color=YEAR_COLORS[yr], width=1.1),
            xaxis=xa, yaxis=ya, showlegend=False, hoverinfo="skip"))

    x_text = []
    for v in X_TICK_VALUES:
        show = (r == 3) and v % 50 == 0 and (c == 2 or v < 600)
        x_text.append(str(v) if show else "")
    # the top label of the first row sits at the page edge; it is drawn as an
    # annotation just inside the figure instead of as a tick label
    y_text = list(Y_TICK_LABELS)
    if r == 0:
        y_text[-1] = ""
    common = dict(ticks="inside", ticklen=6, tickwidth=1, tickcolor="black",
                  showline=True, linecolor="black", linewidth=1.2, mirror="ticks",
                  showgrid=False, zeroline=False, automargin=False,
                  ticklabeloverflow="allow",
                  tickfont=dict(family=FONT, size=19, color="black"))
    layout_axes["xaxis" if n == 1 else f"xaxis{n}"] = dict(
        domain=[fx(COL_PX[c][0]), fx(COL_PX[c][1])], range=[290, 600], anchor=ya,
        tickmode="array", tickvals=X_TICK_VALUES, ticktext=x_text,
        showticklabels=(r == 3), ticklabelstandoff=0, **common)
    layout_axes["yaxis" if n == 1 else f"yaxis{n}"] = dict(
        domain=[fy(ROW_PX[r][1]), fy(ROW_PX[r][0])], range=[0.8, 1.2], anchor=xa,
        tickmode="array", tickvals=Y_TICK_VALUES, ticktext=y_text,
        showticklabels=(c == 0), ticklabelstandoff=8, **common)

    shapes.append(dict(type="line", xref=f"{xa} domain", x0=0, x1=1, yref=ya, y0=1, y1=1,
                       line=dict(color="black", width=1.3), layer="above"))

    left_off = 35 if i == 5 else 19
    annotations.append(dict(text=PANEL_PERIODS[i], xref="paper", yref="paper",
                            x=fx(COL_PX[c][0] + left_off), y=fy(ROW_PX[r][0] + 29),
                            xanchor="left", yanchor="middle", showarrow=False,
                            font=dict(family=FONT, size=23, color="black")))
    annotations.append(dict(text=PANEL_SZA[i], xref="paper", yref="paper",
                            x=fx(COL_PX[c][1] - 21), y=fy(ROW_PX[r][0] + 29),
                            xanchor="right", yanchor="middle", showarrow=False,
                            font=dict(family=FONT, size=23, color="black")))

annotations.append(dict(text=Y_TICK_LABELS[-1], xref="paper", yref="paper",
                        x=fx(COL_PX[0][0] - 10), y=1.0, xanchor="right", yanchor="top",
                        showarrow=False, borderpad=0,
                        font=dict(family=FONT, size=19, color="black")))

for r in range(4):
    annotations.append(dict(text="Ratio", xref="paper", yref="paper",
                            x=fx(22), y=fy((ROW_PX[r][0] + ROW_PX[r][1]) / 2),
                            textangle=-90, xanchor="center", yanchor="middle",
                            showarrow=False, font=dict(family=FONT, size=22, color="black")))
for c in range(3):
    annotations.append(dict(text="Wavelength in nm", xref="paper", yref="paper",
                            x=fx((COL_PX[c][0] + COL_PX[c][1]) / 2), y=fy(1365),
                            xanchor="center", yanchor="middle", showarrow=False,
                            font=dict(family=FONT, size=23, color="black")))

# legend inside the 15-Feb - 28-Feb panel (column-major, 4 rows x 3 columns)
LEG_LINE_X = [(128, 163), (232, 267), (336, 371)]
LEG_TEXT_X = [172, 277, 381]
LEG_ROW_Y = [566, 589, 612, 636]
for k, yr in enumerate(YEARS):
    col, row = divmod(k, 4)
    yy = fy(LEG_ROW_Y[row])
    shapes.append(dict(type="line", xref="paper", yref="paper",
                       x0=fx(LEG_LINE_X[col][0]), x1=fx(LEG_LINE_X[col][1]), y0=yy, y1=yy,
                       line=dict(color=YEAR_COLORS[yr], width=1.5)))
    annotations.append(dict(text=str(yr), xref="paper", yref="paper",
                            x=fx(LEG_TEXT_X[col]), y=yy, xanchor="left", yanchor="middle",
                            showarrow=False, font=dict(family=FONT, size=19, color="black")))

fig.update_layout(width=FIG_W, height=FIG_H, autosize=False,
                  margin=dict(l=0, r=0, t=0, b=0, autoexpand=False),
                  paper_bgcolor="white", plot_bgcolor="white",
                  showlegend=False, shapes=shapes, annotations=annotations,
                  **layout_axes)

fig.write_html("out.html")
